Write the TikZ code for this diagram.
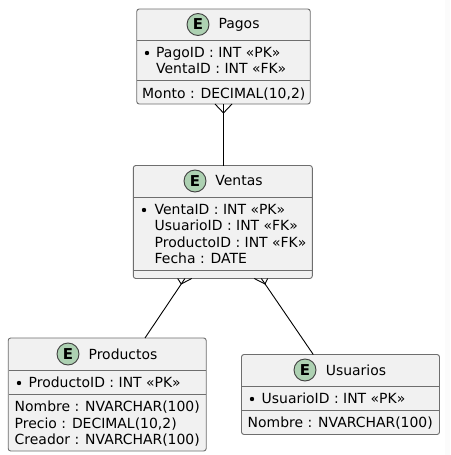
\documentclass[tikz,border=0pt]{standalone}
\usepackage{fontspec}
\setmainfont{DejaVu Sans}
\usetikzlibrary{calc,positioning}
\definecolor{ebg}{HTML}{F1F1F1}
\definecolor{eline}{HTML}{6E6E6E}
\definecolor{ecirc}{HTML}{ADD1B2}
\tikzset{
  x=1pt,y=-1pt,
  entity/.style={draw=eline,fill=ebg,line width=0.9pt,rounded corners=2.5pt,inner sep=0pt,outer sep=0pt},
  badge/.style={circle,draw=black!75,fill=ecirc,line width=0.9pt,minimum size=22pt,inner sep=0pt,font=\fontsize{15}{15}\selectfont\bfseries},
  ttl/.style={inner sep=0pt,font=\fontsize{13.95}{14}\selectfont},
  attr/.style={anchor=base west,inner sep=0pt,font=\fontsize{13.95}{14}\selectfont},
  bul/.style={circle,fill=black,minimum size=4.4pt,inner sep=0pt},
  sep/.style={draw=eline,line width=0.9pt},
  rel/.style={draw=black,line width=0.9pt},
}
\newcommand{\ent}[5]{\node[entity,minimum width=#4pt,minimum height=#5pt] (#1) at (#2,#3) {};}
\begin{document}
\begin{tikzpicture}
\useasboundingbox (0,0) rectangle (450,455);
\fill[white] (0,0) rectangle (450,455);
\fill[ebg!25!white] (445,0) rectangle (450,455);
% entities
\ent{pagos}{223.5}{56.5}{173.5}{95}
\ent{ventas}{222.8}{222}{179}{113}
\ent{productos}{107.2}{394.5}{198}{113}
\ent{usuarios}{340.5}{394.5}{198}{80}
% relations
\draw[rel] (pagos.south) -- (pagos.south |- ventas.north);
\draw[rel] (ventas) -- (productos);
\draw[rel] (ventas) -- (usuarios);
% crow's feet
\coordinate (pf) at ($(pagos.south)+(0,9)$);
\draw[rel] (pf) -- ($(pagos.south)+(-8.5,0)$) (pf) -- ($(pagos.south)+(8.5,0)$);
\coordinate (vpf) at (181.2,284);
\draw[rel] (vpf) -- (177.7,278.5) (vpf) -- (191.7,278.5);
\coordinate (vuf) at (265,284);
\draw[rel] (vuf) -- (254.3,278.5) (vuf) -- (267.7,278.5);
% separators
\draw[sep] (137,40.5) -- (310,40.5) (137,80) -- (310,80);
\draw[sep] (133.5,197) -- (312.3,197) (133.5,270) -- (312.3,270);
\draw[sep] (8.5,370.5) -- (206,370.5) (8.5,394) -- (206,394);
\draw[sep] (241.5,386.5) -- (439.5,386.5) (241.5,410) -- (439.5,410);
% headers
\node[badge] (bp) at (198,24.5) {E};
\node[ttl] (tp) at (239,24.5) {Pagos};
\node[badge] (bv) at (195,181) {E};
\node[ttl] (tv) at (239,181) {Ventas};
\node[badge] (bq) at (68,354) {E};
\node[ttl] (tq) at (123,354) {Productos};
\node[badge] (bu) at (305,370) {E};
\node[ttl] (tu) at (356,370) {Usuarios};
% Pagos
\node[bul] (b1) at (147,53) {};
\node[attr] (p1) at (156,57) {PagoID : INT «PK»};
\node[attr] (p2) at (156,73) {VentaID : INT «FK»};
\node[attr] (p3) at (142,98) {Monto : DECIMAL(10,2)};
% Ventas
\node[bul] (b2) at (144,210) {};
\node[attr] (v1) at (154.5,214) {VentaID : INT «PK»};
\node[attr] (v2) at (154.5,230) {UsuarioID : INT «FK»};
\node[attr] (v3) at (154.5,247) {ProductoID : INT «FK»};
\node[attr] (v4) at (154.5,263) {Fecha : DATE};
% Productos
\node[bul] (b3) at (19,383) {};
\node[attr] (q1) at (28.5,387) {ProductoID : INT «PK»};
\node[attr] (q2) at (14.5,411) {Nombre : NVARCHAR(100)};
\node[attr] (q3) at (14.5,428) {Precio : DECIMAL(10,2)};
\node[attr] (q4) at (14.5,444) {Creador : NVARCHAR(100)};
% Usuarios
\node[bul] (b4) at (252,399) {};
\node[attr] (u1) at (261.5,403) {UsuarioID : INT «PK»};
\node[attr] (u2) at (247.5,427) {Nombre : NVARCHAR(100)};
\end{tikzpicture}
\end{document}
